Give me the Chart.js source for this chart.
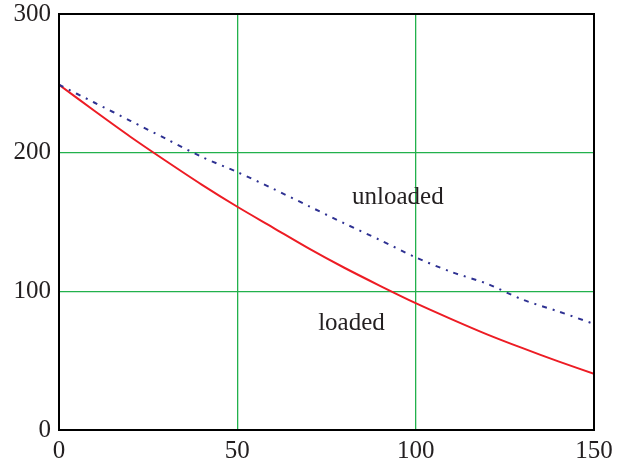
<!DOCTYPE html>
<html>
<head>
<meta charset="utf-8">
<script src="https://cdn.jsdelivr.net/npm/chart.js@4.4.0/dist/chart.umd.min.js"></script>
<style>
  html, body { margin: 0; padding: 0; background: #fff; }
  #wrap { width: 623px; height: 465px; }
</style>
</head>
<body>
<div id="wrap"><canvas id="chart" width="623" height="465"></canvas></div>
<script>
// values
const xValues = [0, 10, 20, 30, 40, 50, 60, 70, 80, 90, 100, 110, 120, 130, 140, 150];
const loaded = [249, 230, 211.5, 194, 177, 161, 146, 131, 117, 104, 91.5, 80, 69, 59, 49.5, 40.5];
const unloaded = [249, 236, 223, 210, 197, 186, 174, 161.5, 149, 137, 124.5, 114, 105.5, 94, 85.5, 76.5];
const xTicks = [0, 50, 100, 150];
const yTicks = [0, 100, 200, 300];

const textFont = '25px "Liberation Serif", "DejaVu Serif", serif';
const textColor = '#231f20';
const gridGreen = '#22b14c';

const curveLabels = [
  { text: 'unloaded', x: 95, y: 168 },
  { text: 'loaded', x: 82, y: 77 }
];

function toPoints(ys) {
  return xValues.map((x, i) => ({ x: x, y: ys[i] }));
}

// box around the plot plus the curve names
const framePlugin = {
  id: 'frame',
  afterDatasetsDraw(chart) {
    const ctx = chart.ctx;
    const a = chart.chartArea;
    ctx.save();
    ctx.strokeStyle = '#000';
    ctx.lineWidth = 2;
    ctx.strokeRect(a.left, a.top, a.right - a.left, a.bottom - a.top);
    ctx.font = textFont;
    ctx.fillStyle = textColor;
    ctx.textAlign = 'center';
    ctx.textBaseline = 'middle';
    curveLabels.forEach(l => {
      ctx.fillText(l.text, chart.scales.x.getPixelForValue(l.x), chart.scales.y.getPixelForValue(l.y));
    });
    ctx.restore();
  }
};

new Chart(document.getElementById('chart'), {
  type: 'line',
  data: {
    datasets: [
      {
        label: 'unloaded',
        data: toPoints(unloaded),
        borderColor: '#2e3192',
        borderWidth: 2,
        borderDash: [5, 6, 2, 6],
        pointRadius: 0,
        tension: 0.3
      },
      {
        label: 'loaded',
        data: toPoints(loaded),
        borderColor: '#ed1c24',
        borderWidth: 2,
        pointRadius: 0,
        tension: 0.3
      }
    ]
  },
  options: {
    responsive: false,
    animation: false,
    layout: { padding: { top: 14, right: 29, left: 0, bottom: 0 } },
    plugins: {
      legend: { display: false },
      tooltip: { enabled: false }
    },
    scales: {
      x: {
        type: 'linear',
        min: 0,
        max: 150,
        afterBuildTicks(scale) { scale.ticks = xTicks.map(v => ({ value: v })); },
        afterFit(scale) { scale.height = 35; scale.paddingLeft = 0; scale.paddingRight = 0; },
        ticks: { font: { family: '"Liberation Serif", serif', size: 25 }, color: textColor, padding: 6, maxRotation: 0 },
        grid: { color: () => gridGreen, lineWidth: 1.3, drawTicks: false },
        border: { color: '#000', width: 2 }
      },
      y: {
        min: 0,
        max: 300,
        afterBuildTicks(scale) { scale.ticks = yTicks.map(v => ({ value: v })); },
        afterFit(scale) { scale.width = 59; scale.paddingTop = 0; scale.paddingBottom = 0; },
        ticks: { font: { family: '"Liberation Serif", serif', size: 25 }, color: textColor, padding: 8 },
        grid: { color: () => gridGreen, lineWidth: 1.3, drawTicks: false },
        border: { color: '#000', width: 2 }
      }
    }
  },
  plugins: [framePlugin]
});
</script>
</body>
</html>
